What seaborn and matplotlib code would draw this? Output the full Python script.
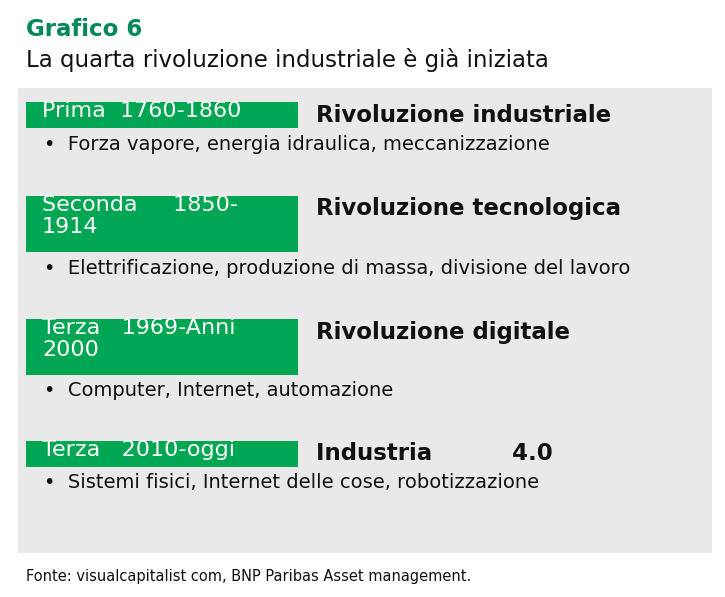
import matplotlib
matplotlib.use("Agg")
import matplotlib.pyplot as plt
import seaborn as sns
from matplotlib.patches import Rectangle

sns.set_theme(style="white")
plt.rcParams['font.family'] = ['DejaVu Sans']

labels = ["Prima  1760-1860", "Seconda     1850-\n1914", "Terza   1969-Anni\n2000", "Terza   2010-oggi"]
titles = ["Rivoluzione industriale", "Rivoluzione tecnologica", "Rivoluzione digitale", "Industria          4.0"]
bullets = ["Forza vapore, energia idraulica, meccanizzazione",
           "Elettrificazione, produzione di massa, divisione del lavoro",
           "Computer, Internet, automazione",
           "Sistemi fisici, Internet delle cose, robotizzazione"]
box_top = [102, 196, 319, 441]
box_h = [26, 56, 56, 26]

green = "#00A651"
fig = plt.figure(figsize=(7.25, 5.97), dpi=100)
ax = fig.add_axes([0, 0, 1, 1])
ax.set_xlim(0, 725); ax.set_ylim(597, 0); ax.axis("off")

ax.text(26, 30, "Grafico 6", color="#00875A", fontsize=16.5, fontweight="bold", va="center")
ax.text(26, 60, "La quarta rivoluzione industriale è già iniziata", color="#111111", fontsize=16.5, va="center")
ax.add_patch(Rectangle((18, 88), 694, 465, color="#E8E9E8", lw=0))

for lab, tit, bul, t, h in zip(labels, titles, bullets, box_top, box_h):
    ax.add_patch(Rectangle((26, t), 272, h, color=green, lw=0))
    ax.text(42, t - 1, lab, color="white", fontsize=16, va="top", linespacing=1.1)
    ax.text(316, t + 13, tit, color="#111111", fontsize=16.5, fontweight="bold", va="center")
    ax.text(44, t + h + 16, "•  " + bul, color="#111111", fontsize=14, va="center")

ax.text(26, 577, "Fonte: visualcapitalist com, BNP Paribas Asset management.", color="#111111", fontsize=10.5, va="center")
fig.savefig("out.png", dpi=100)
